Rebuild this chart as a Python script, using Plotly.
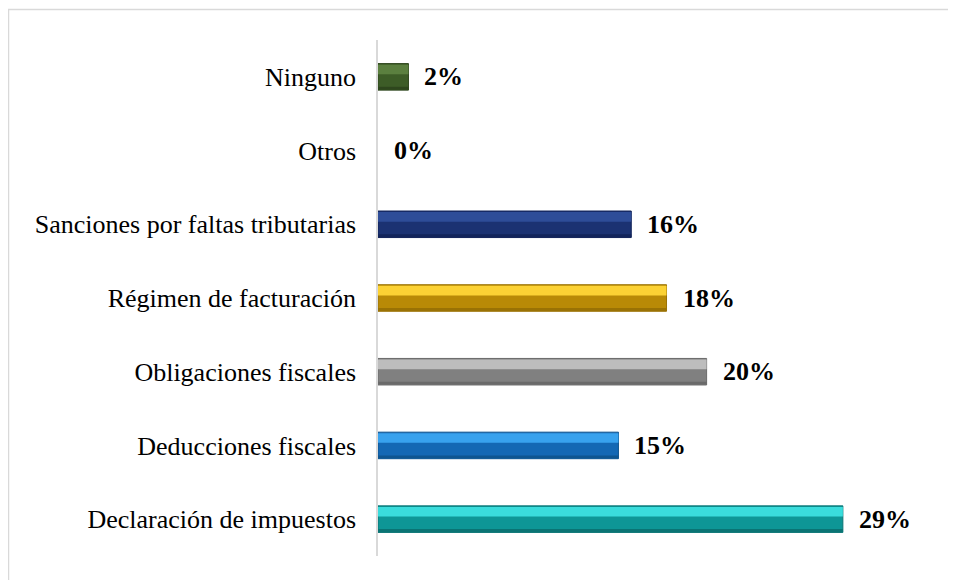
import plotly.graph_objects as go

categories = ["Declaración de impuestos", "Deducciones fiscales", "Obligaciones fiscales",
              "Régimen de facturación", "Sanciones por faltas tributarias", "Otros", "Ninguno"]
values = [29.0, 15.0, 20.5, 18.0, 15.8, 0.0, 1.9]
labels = ["29%", "15%", "20%", "18%", "16%", "0%", "2%"]

NONE = "rgba(0,0,0,0)"
body_colors = ["#0E9696", "#1468B4", "#808080", "#B98A06", "#1B3272", NONE, "#3D5C27"]
top_colors = ["#3ADCDC", "#38A2EE", "#BDBDBD", "#FCD234", "#2E4D98", NONE, "#5B7F3F"]
edge_colors = ["#0A7474", "#0E5590", "#6A6A6A", "#9A7204", "#12245A", NONE, "#2E461D"]

FONT = "Times New Roman, Liberation Serif, Times, serif"
BAR_W = 0.36

fig = go.Figure()
fig.add_trace(go.Bar(
    y=categories, x=values, orientation="h", width=BAR_W,
    marker=dict(color=body_colors, line=dict(color=edge_colors, width=1)),
    hoverinfo="skip", showlegend=False))
fig.add_trace(go.Bar(
    y=categories, x=values, orientation="h", width=0.13, offset=0.035,
    marker=dict(color=top_colors, line=dict(width=0)),
    hoverinfo="skip", showlegend=False))
fig.add_trace(go.Bar(
    y=categories, x=values, orientation="h", width=0.04, offset=-BAR_W / 2 + 0.005,
    marker=dict(color=edge_colors, line=dict(width=0)),
    hoverinfo="skip", showlegend=False))

for c, v, t in zip(categories, values, labels):
    fig.add_annotation(x=v, y=c, text="<b>%s</b>" % t, showarrow=False,
                       xanchor="left", xshift=14,
                       font=dict(family=FONT, size=26, color="#000000"))

fig.update_layout(
    width=956, height=580,
    barmode="overlay",
    paper_bgcolor="white", plot_bgcolor="white",
    margin=dict(l=370, r=24, t=32, b=32),
    font=dict(family=FONT, size=26, color="#000000"),
    xaxis=dict(range=[0, 35.06], visible=False, fixedrange=True),
    yaxis=dict(categoryorder="array", categoryarray=categories,
               showline=True, linecolor="#D9D9D9", linewidth=1.5,
               ticks="", showgrid=False, ticklabelstandoff=15,
               tickfont=dict(family=FONT, size=26, color="#000000")),
    shapes=[dict(type="rect", xref="paper", yref="paper",
                 x0=(0.5 - 370) / 562, x1=1.2, y0=-0.2, y1=1 + (32 - 1.5) / 516,
                 line=dict(color="#D9D9D9", width=1.5), fillcolor="rgba(0,0,0,0)",
                 layer="below")],
)

fig.write_html("out.html")
